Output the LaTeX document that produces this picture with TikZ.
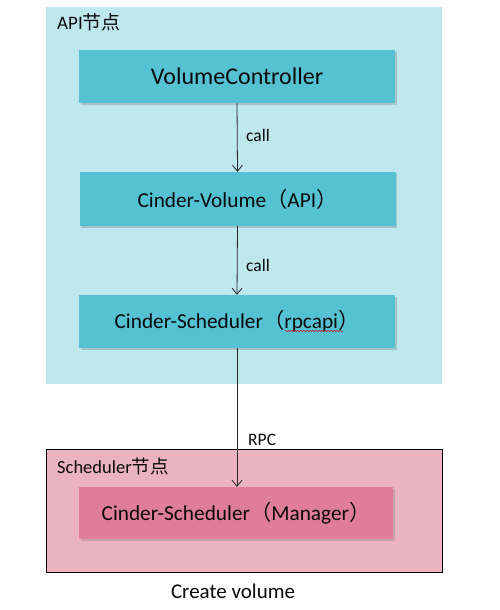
\documentclass[tikz,border=0pt]{standalone}
\usepackage{fontspec}
\setmainfont{Carlito}
\newfontfamily\cjk{Noto Sans CJK SC}
\usetikzlibrary{arrows.meta,shadows,decorations.pathmorphing,calc}
\definecolor{panelblue}{HTML}{BEE8EE}
\definecolor{boxblue}{HTML}{55C2D3}
\definecolor{panelpink}{HTML}{EBB3C0}
\definecolor{boxpink}{HTML}{E07E97}
\definecolor{txt}{HTML}{0A0A0A}
\begin{document}
\begin{tikzpicture}[x=1pt,y=-1pt,
  panel/.style={rectangle,inner sep=0pt,minimum width=396pt},
  procbox/.style={rectangle,inner sep=0pt,minimum width=316pt,minimum height=53pt,
    text=txt,font=\fontsize{21.3}{24}\selectfont,
    drop shadow={opacity=0.35,shadow xshift=1.5pt,shadow yshift=-2pt}},
  flow/.style={draw=black!85,line width=0.8pt,-{Straight Barb[length=6pt,width=10pt,line width=0.8pt]}},
  lbl/.style={text=txt,inner sep=0pt,anchor=west,font=\fontsize{17.5}{20}\selectfont}
]
\useasboundingbox (0,0) rectangle (499,610);
\fill[white] (0,0) rectangle (499,610);
% panels
\node[panel,fill=panelblue,minimum height=377pt] (api) at (244,195.5) {};
\node[panel,fill=panelpink,draw=black,line width=0.8pt,minimum height=123pt] (sch) at (244,510.5) {};
\node[lbl,font=\fontsize{19}{21}\selectfont] (apilbl) at (57,22) {API{\cjk 节点}};
\node[lbl,font=\fontsize{18.5}{21}\selectfont] (schlbl) at (57,466) {Scheduler{\cjk 节点}};
% boxes
\node[procbox,fill=boxblue,font=\fontsize{24}{28}\selectfont] (b1) at (237,76.5) {VolumeController};
\node[procbox,fill=boxblue,minimum height=54pt] (b2) at (237.5,199) {Cinder-Volume{\cjk （}API{\cjk ）}};
\node[procbox,fill=boxblue] (b3) at (237,321.5) {Cinder-Scheduler{\cjk （}rpcapi{\cjk ）}};
\node[procbox,fill=boxpink,minimum width=314pt,minimum height=52pt] (b4) at (236,513) {Cinder-Scheduler{\cjk （}Manager{\cjk ）}};
% spell-check squiggle
\draw[red!85!black,line width=0.5pt,decorate,decoration={snake,segment length=3pt,amplitude=0.6pt}]
  ($(b3.center)+(48,9.5)$) -- ($(b3.center)+(106,9.5)$);
% arrows
\draw[flow] (b1.south) -- (b2.north);
\draw[flow] (b2.south) -- (b3.north);
\draw[flow] (b3.south) -- (b3.south |- b4.north);
% labels
\node[lbl] (c1) at (246,135) {call};
\node[lbl] (c2) at (246,265) {call};
\node[lbl] (rpc) at (248,440) {RPC};
\node[text=txt,inner sep=0pt,font=\fontsize{21}{24}\selectfont] (cap) at (233,591) {Create volume};
\end{tikzpicture}
\end{document}
